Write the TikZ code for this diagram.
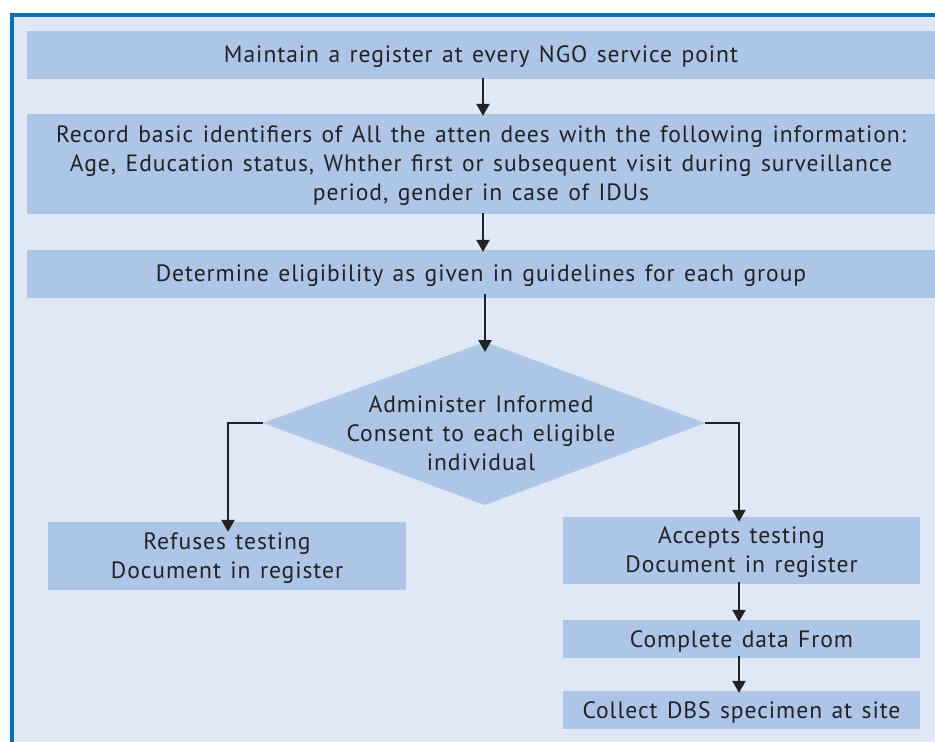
\documentclass[tikz,border=0pt]{standalone}
\usepackage{fontspec}
\setmainfont{PT Sans}[LetterSpace=4,WordSpace=1.3]
\usetikzlibrary{arrows.meta}
\definecolor{bgc}{HTML}{E0E8F5}
\definecolor{boxc}{HTML}{ADC6E8}
\definecolor{framec}{HTML}{0A6EB8}
\definecolor{txt}{HTML}{222222}
\tikzset{
  stepbox/.style={fill=boxc, draw=none, inner sep=0pt, text=txt, align=center, font=\fontsize{23.6}{29}\selectfont},
  arr/.style={draw=txt, line width=2.4pt, -{Triangle[length=12pt,width=13pt]}},
}
\begin{document}
\begin{tikzpicture}[x=1pt,y=-1pt]
\useasboundingbox (0,0) rectangle (935,742);
\fill[white] (0,0) rectangle (935,742);
\fill[bgc] (10,13) rectangle (935,742);
\fill[framec] (10,13) rectangle (935,16.5);
\fill[framec] (10,13) rectangle (13.5,742);

\node[stepbox, minimum width=908, minimum height=48] (b1) at (481,55) {};
\node[stepbox, fill=none] (t1) at (481,57) {Maintain a register at every NGO service point};
\node[stepbox, minimum width=908, minimum height=100] (b2) at (481,164) {};
\node[stepbox, fill=none] (t2) at (481,166) {Record basic identifiers of All the atten dees with the following information:\\Age, Education status, Whther first or subsequent visit during surveillance\\period, gender in case of IDUs};
\node[stepbox, minimum width=908, minimum height=48] (b3) at (481,274) {};
\node[stepbox, fill=none] (t3) at (481,276) {Determine eligibility as given in guidelines for each group};

\coordinate (dt) at (485,342);
\coordinate (dl) at (263,423);
\coordinate (dr) at (705,423);
\coordinate (db) at (485,505);
\coordinate (b3s) at ([yshift=4pt]b3.south);
\fill[boxc] (dt) -- (dr) -- (db) -- (dl) -- cycle;
\node[stepbox, fill=none] (dtext) at (481,433) {Administer Informed\\Consent to each eligible\\individual};

\node[stepbox, minimum width=358, minimum height=68] (lb) at (227,556) {};
\node[stepbox, fill=none] (lt) at (227,558) {Refuses testing\\Document in register};
\node[stepbox, minimum width=357, minimum height=67] (r1) at (741.5,550.5) {};
\node[stepbox, fill=none] (r1t) at (741.5,552.5) {Accepts testing\\Document in register};
\node[stepbox, minimum width=357, minimum height=38] (r2) at (741.5,639) {};
\node[stepbox, fill=none] (r2t) at (741.5,641) {Complete data From};
\node[stepbox, minimum width=357, minimum height=38] (r3) at (741.5,710) {};
\node[stepbox, fill=none] (r3t) at (741.5,712) {Collect DBS specimen at site};

\draw[arr] ([xshift=2pt,yshift=1pt]b1.south) -- ([xshift=2pt,yshift=-2pt]b2.north);
\draw[arr] ([xshift=2pt,yshift=1pt]b2.south) -- ([xshift=2pt,yshift=-2pt]b3.north);
\draw[arr] (dt |- b3s) -- ([yshift=-10pt]dt);
\draw[arr] (dl) -- (228,423) -- ([xshift=1pt,yshift=-10pt]lb.north);
\draw[arr] (dr) -- (739,423) -- ([xshift=-2.5pt,yshift=-5pt]r1.north);
\draw[arr] ([xshift=-2.5pt,yshift=2pt]r1.south) -- ([xshift=-2.5pt,yshift=-2pt]r2.north);
\draw[arr] ([xshift=-2.5pt,yshift=2pt]r2.south) -- ([xshift=-2.5pt,yshift=-2pt]r3.north);
\end{tikzpicture}
\end{document}
